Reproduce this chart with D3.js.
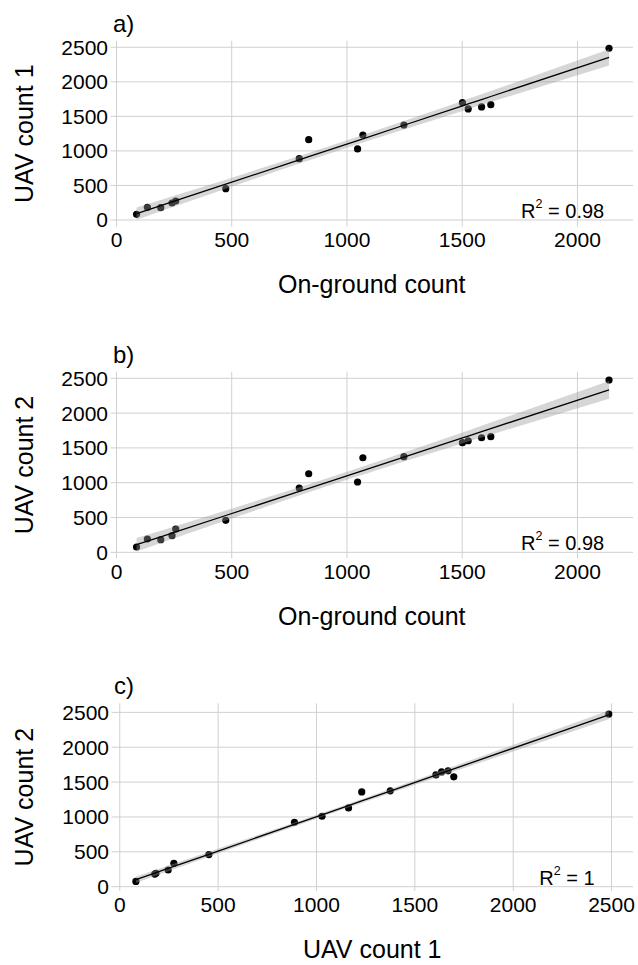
<!DOCTYPE html>
<html>
<head>
<meta charset="utf-8">
<script src="https://cdn.jsdelivr.net/npm/d3@7"></script>
<style>
  html, body { margin: 0; padding: 0; background: #ffffff; }
  svg { display: block; font-family: "Liberation Sans", Arial, sans-serif; }
</style>
</head>
<body>
<svg id="chart" width="638" height="965"></svg>
<script>
// ---- data ----
const onGround = [87, 134, 192, 241, 257, 474, 793, 834, 1046, 1069, 1247, 1501, 1526, 1584, 1624, 2137];
const uav1     = [82, 184, 178, 246, 275, 453, 888, 1163, 1028, 1230, 1375, 1698, 1607, 1636, 1669, 2486];
const uav2     = [76, 191, 181, 239, 335, 460, 924, 1129, 1010, 1359, 1374, 1575, 1603, 1646, 1661, 2476];

const panelTags  = ["a)", "b)", "c)"];
const xTitles    = ["On-ground count", "On-ground count", "UAV count 1"];
const yTitles    = ["UAV count 1", "UAV count 2", "UAV count 2"];
const r2Values   = ["0.98", "0.98", "1"];
const xTicksAB   = [0, 500, 1000, 1500, 2000];
const xTicksC    = [0, 500, 1000, 1500, 2000, 2500];
const yTicks     = [0, 500, 1000, 1500, 2000, 2500];

// ---- layout (positions / scale settings) ----
const panels = [
  { xs: onGround, ys: uav1, xTicks: xTicksAB, top: 40.7,  bottom: 226.7, left: 110.5, right: 633,
    xDom: [-26, 2241], yDom: [-97, 2595], r2x: 2116 },
  { xs: onGround, ys: uav2, xTicks: xTicksAB, top: 371.7, bottom: 558.3, left: 110.5, right: 633,
    xDom: [-26, 2241], yDom: [-86, 2595], r2x: 2116 },
  { xs: uav1, ys: uav2, xTicks: xTicksC, top: 703.3, bottom: 891, left: 111.5, right: 633,
    xDom: [-42, 2609], yDom: [-62, 2630], r2x: 2414 }
];

const svg = d3.select("#chart");
const T975_DF14 = 2.1448;

function fit(xs, ys) {
  const n = xs.length;
  const mx = d3.mean(xs), my = d3.mean(ys);
  let sxx = 0, sxy = 0;
  for (let i = 0; i < n; i++) { sxx += (xs[i] - mx) ** 2; sxy += (xs[i] - mx) * (ys[i] - my); }
  const b = sxy / sxx, a = my - b * mx;
  let sse = 0;
  for (let i = 0; i < n; i++) sse += (ys[i] - (a + b * xs[i])) ** 2;
  const s = Math.sqrt(sse / (n - 2));
  return xs.slice().sort((p, q) => p - q).map(x => {
    const yh = a + b * x;
    const se = s * Math.sqrt(1 / n + (x - mx) ** 2 / sxx);
    return { x, y: yh, lo: yh - T975_DF14 * se, hi: yh + T975_DF14 * se };
  });
}

panels.forEach((p, i) => {
  const x = d3.scaleLinear().domain(p.xDom).range([p.left, p.right]);
  const y = d3.scaleLinear().domain(p.yDom).range([p.bottom, p.top]);
  const g = svg.append("g");

  // grid
  g.selectAll(".vg").data(p.xTicks).join("line")
    .attr("x1", d => x(d)).attr("x2", d => x(d))
    .attr("y1", p.top).attr("y2", p.bottom)
    .attr("stroke", "#d0d0d0").attr("stroke-width", 1);
  g.selectAll(".hg").data(yTicks).join("line")
    .attr("x1", p.left).attr("x2", p.right)
    .attr("y1", d => y(d)).attr("y2", d => y(d))
    .attr("stroke", "#d0d0d0").attr("stroke-width", 1);

  // tick labels
  g.selectAll(".xl").data(p.xTicks).join("text")
    .attr("x", d => x(d)).attr("y", p.bottom + 20.5)
    .attr("text-anchor", "middle").attr("font-size", 21).attr("fill", "#000")
    .text(d => d);
  g.selectAll(".yl").data(yTicks).join("text")
    .attr("x", p.left - 2.5).attr("y", d => y(d) + 7.5)
    .attr("text-anchor", "end").attr("font-size", 21).attr("fill", "#000")
    .text(d => d);

  // points
  const pts = p.xs.map((v, k) => ({ x: v, y: p.ys[k] }));
  g.selectAll(".pt").data(pts).join("circle")
    .attr("cx", d => x(d.x)).attr("cy", d => y(d.y)).attr("r", 3.6)
    .attr("fill", "#000");

  // smooth (lm) with 95% CI ribbon
  const f = fit(p.xs, p.ys);
  g.append("path").datum(f)
    .attr("d", d3.area().x(d => x(d.x)).y0(d => y(d.lo)).y1(d => y(d.hi)))
    .attr("fill", "#999999").attr("fill-opacity", 0.4);
  g.append("path").datum(f)
    .attr("d", d3.line().x(d => x(d.x)).y(d => y(d.y)))
    .attr("fill", "none").attr("stroke", "#000").attr("stroke-width", 1.3);

  // R^2 annotation
  const t = g.append("text")
    .attr("x", x(p.r2x)).attr("y", y(0) - 2)
    .attr("text-anchor", "end").attr("font-size", 20).attr("fill", "#000");
  t.append("tspan").text("R");
  t.append("tspan").attr("font-size", 12.5).attr("dy", -10).text("2");
  t.append("tspan").attr("dy", 10).text(" = " + r2Values[i]);

  // panel tag
  g.append("text")
    .attr("x", p.left + 2.5).attr("y", p.top - 9.2)
    .attr("font-size", 24).attr("fill", "#000").text(panelTags[i]);

  // axis titles
  g.append("text")
    .attr("x", (p.left + p.right) / 2).attr("y", p.bottom + 66.5)
    .attr("text-anchor", "middle").attr("font-size", 25).attr("fill", "#000")
    .text(xTitles[i]);
  g.append("text")
    .attr("transform", `translate(33,${(p.top + p.bottom) / 2}) rotate(-90)`)
    .attr("text-anchor", "middle").attr("font-size", 25).attr("fill", "#000")
    .text(yTitles[i]);
});
</script>
</body>
</html>
